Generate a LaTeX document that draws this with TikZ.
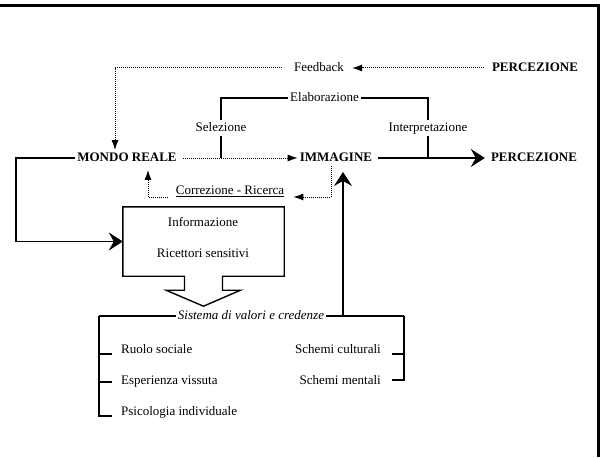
\documentclass[tikz,border=0pt]{standalone}
\usepackage{fontspec}
\setmainfont{Liberation Serif}
\usetikzlibrary{arrows.meta}
\begin{document}
\begin{tikzpicture}[x=1pt,y=-1pt,
  lbl/.style={font=\fontsize{13}{15}\selectfont, inner sep=2pt, text height=9pt, text depth=2.5pt},
  caps/.style={lbl, font=\fontsize{13}{15}\selectfont\bfseries},
  cut/.style={lbl, fill=white},
  ln/.style={line width=1.4pt},
  dots/.style={line width=1pt, dash pattern=on 1pt off 1pt},
  sm/.style={-{Latex[length=10pt,width=7pt]}},
  bg/.style={-{Stealth[length=14pt,width=18pt,inset=5pt]}}]

\useasboundingbox (0,0) rectangle (601,457);
\draw[line width=3pt] (0,6) -- (598,6) -- (598,457);

\node[lbl] (fb) at (319,68) {Feedback};
\node[caps] (ptop) at (535,68) {PERCEZIONE};
\node[caps] (mondo) at (127,158) {MONDO REALE};
\node[caps] (img) at (336,158) {IMMAGINE};
\node[caps] (perc) at (534,158) {PERCEZIONE};
\node[lbl] (corr) at (230,191) {\underline{Correzione - Ricerca}};

\draw[dots,sm] ([xshift=-6pt]ptop.west) -- ([xshift=6pt]fb.east);
\draw[dots,sm] ([xshift=-10pt]fb.west) -| ([xshift=-12pt]mondo.north);
\draw[dots,sm,shorten <=4pt] (mondo.east) -- (img.west);
\draw[ln,bg,shorten <=4pt,shorten >=4pt] (img.east) -- (perc.west);

\coordinate (sel) at (221,158);
\coordinate (int) at (428,158);
\draw[ln] (sel) -- node[cut] (selz) {Selezione} (221,98)
  -- node[cut] (elab) {Elaborazione} (428,98)
  -- node[cut] (intp) {Interpretazione} (int);

\draw[dots,sm] ([xshift=-5pt]img.south) |- ([xshift=7pt,yshift=-6pt]corr.east);
\draw[dots,sm] ([xshift=-6pt,yshift=-6pt]corr.west) -| ([xshift=21pt,yshift=-4pt]mondo.south);

\node[minimum width=161pt, minimum height=69pt, inner sep=0pt] (box) at (203.5,241.5) {};
\node[lbl] (info) at (203,223) {Informazione};
\node[lbl] (ric) at (203,254) {Ricettori sensitivi};
\draw[ln, line join=miter] ([xshift=-19pt]box.south) -| (box.north west) -| (box.south east)
  -- ([xshift=19pt]box.south) -- ++(0,14) -- ++(18,0) -- ([yshift=-30pt]box.south)
  -- ++(-37.5,-16) -- ++(18.5,0) -- cycle;

\draw[ln,bg] (mondo.west) -- ++(-59,0) |- (box.west);

\coordinate (sl) at (99,316);
\coordinate (sr) at (404,316);
\draw[ln] (sl) -- (sr);
\node[lbl, fill=white, font=\fontsize{13}{15}\selectfont\itshape] (sist) at (251,316) {Sistema di valori e credenze};
\draw[ln,bg] (343,316) -- ([xshift=7pt,yshift=-6pt]img.south);

\draw[ln] (sl) |- (112,416);
\draw[ln] (99,354) -- (112,354);
\draw[ln] (99,382) -- (112,382);
\draw[ln] (sr) |- (392,380);
\draw[ln] (404,354) -- (392,354);

\node[lbl, anchor=west] (ruolo) at (119,350) {Ruolo sociale};
\node[lbl, anchor=west] (esp) at (119,381) {Esperienza vissuta};
\node[lbl, anchor=west] (psic) at (119,412) {Psicologia individuale};
\node[lbl, anchor=east] (cult) at (383,350) {Schemi culturali};
\node[lbl, anchor=east] (ment) at (383,381) {Schemi mentali};

\end{tikzpicture}
\end{document}
